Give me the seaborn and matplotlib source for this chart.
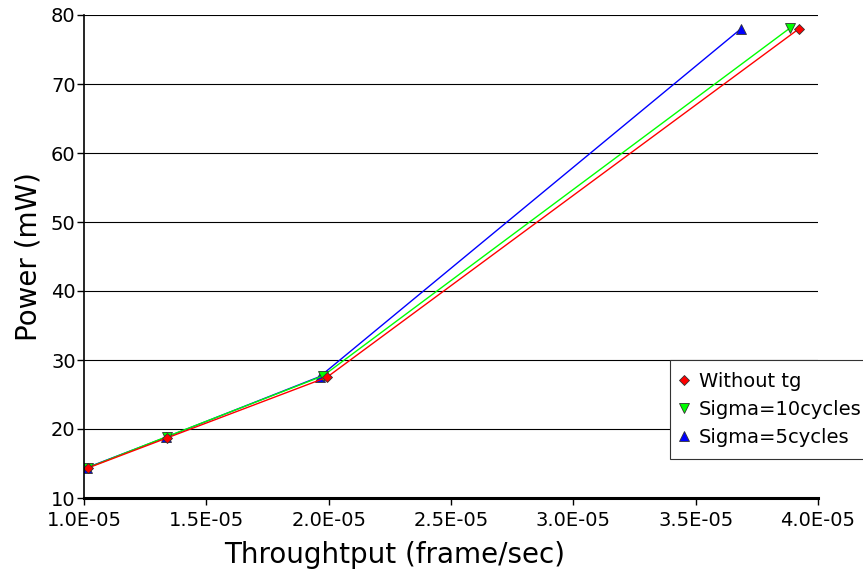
import matplotlib
matplotlib.use('Agg')
import matplotlib.pyplot as plt
import seaborn as sns
import pandas as pd
from matplotlib.ticker import FuncFormatter

# data
labels = ['Without tg', 'Sigma=10cycles', 'Sigma=5cycles']
x_without = [1.016e-5, 1.339e-5, 1.993e-5, 3.922e-5]
y_without = [14.35, 18.7, 27.5, 78.0]
x_s10 = [1.016e-5, 1.339e-5, 1.977e-5, 3.885e-5]
y_s10 = [14.4, 18.9, 27.7, 78.1]
x_s5 = [1.012e-5, 1.335e-5, 1.964e-5, 3.685e-5]
y_s5 = [14.4, 18.8, 27.6, 78.0]
x_ticks = [1.0e-5, 1.5e-5, 2.0e-5, 2.5e-5, 3.0e-5, 3.5e-5, 4.0e-5]
y_ticks = [10, 20, 30, 40, 50, 60, 70, 80]

sns.set_style('white')
plt.rcParams['font.family'] = ['DejaVu Sans']
plt.rcParams['text.color'] = 'black'
plt.rcParams['axes.labelcolor'] = 'black'

fig = plt.figure(figsize=(8.63, 5.72), dpi=100)
ax = fig.add_axes([84/863, 1-498/572, 734/863, 483/572])

series = [
    (x_s5, y_s5, labels[2], '#0000ff', '^', 7),
    (x_s10, y_s10, labels[1], '#00ff00', 'v', 7),
    (x_without, y_without, labels[0], '#ff0000', 'D', 5.5),
]
for xs, ys, lab, col, mk, ms in series:
    df = pd.DataFrame({'x': xs, 'y': ys})
    sns.lineplot(data=df, x='x', y='y', ax=ax, color=col, marker=mk,
                 markersize=ms, markeredgecolor='#333333', markeredgewidth=0.6,
                 linewidth=1, label=lab, sort=False)
h, l = ax.get_legend_handles_labels()
order = [l.index(s) for s in labels]

ax.set_xlim(1.0e-5, 4.0e-5)
ax.set_ylim(10, 80)
ax.set_xticks(x_ticks)
ax.set_yticks(y_ticks)
ax.xaxis.set_major_formatter(FuncFormatter(lambda v, p: '%.1E' % v))
ax.yaxis.grid(True, color='black', linewidth=0.8)
ax.set_axisbelow(True)
for s in ['top', 'right']:
    ax.spines[s].set_visible(False)
ax.spines['left'].set_color('black')
ax.spines['left'].set_linewidth(1.2)
ax.spines['bottom'].set_color('black')
ax.spines['bottom'].set_linewidth(2.2)
ax.tick_params(axis='both', direction='out', length=5, width=1, colors='black',
               labelsize=14, bottom=True, left=True, pad=1)
ax.tick_params(axis='x', pad=4)
ax.set_xlabel('Throughtput (frame/sec)', fontsize=20)
ax.set_ylabel('Power (mW)', fontsize=20)
ax.xaxis.set_label_coords((395 - 84) / 734, -(555 - 498) / 483)
ax.yaxis.set_label_coords(-(84 - 28) / 734, 0.5)
ax.xaxis.label.set_va('center')
ax.yaxis.label.set_va('center')

leg = ax.legend([h[i] for i in order], [l[i] for i in order], loc='upper left',
                bbox_to_anchor=(0.798, 0.286), fontsize=14, frameon=True,
                fancybox=False, edgecolor='#333333', framealpha=1,
                handlelength=0.3, handletextpad=0.6, borderpad=0.6,
                labelspacing=0.48, borderaxespad=0)
leg.get_frame().set_linewidth(0.8)
for lh in leg.get_lines():
    lh.set_linestyle('none')

fig.savefig('out.png', dpi=100)
